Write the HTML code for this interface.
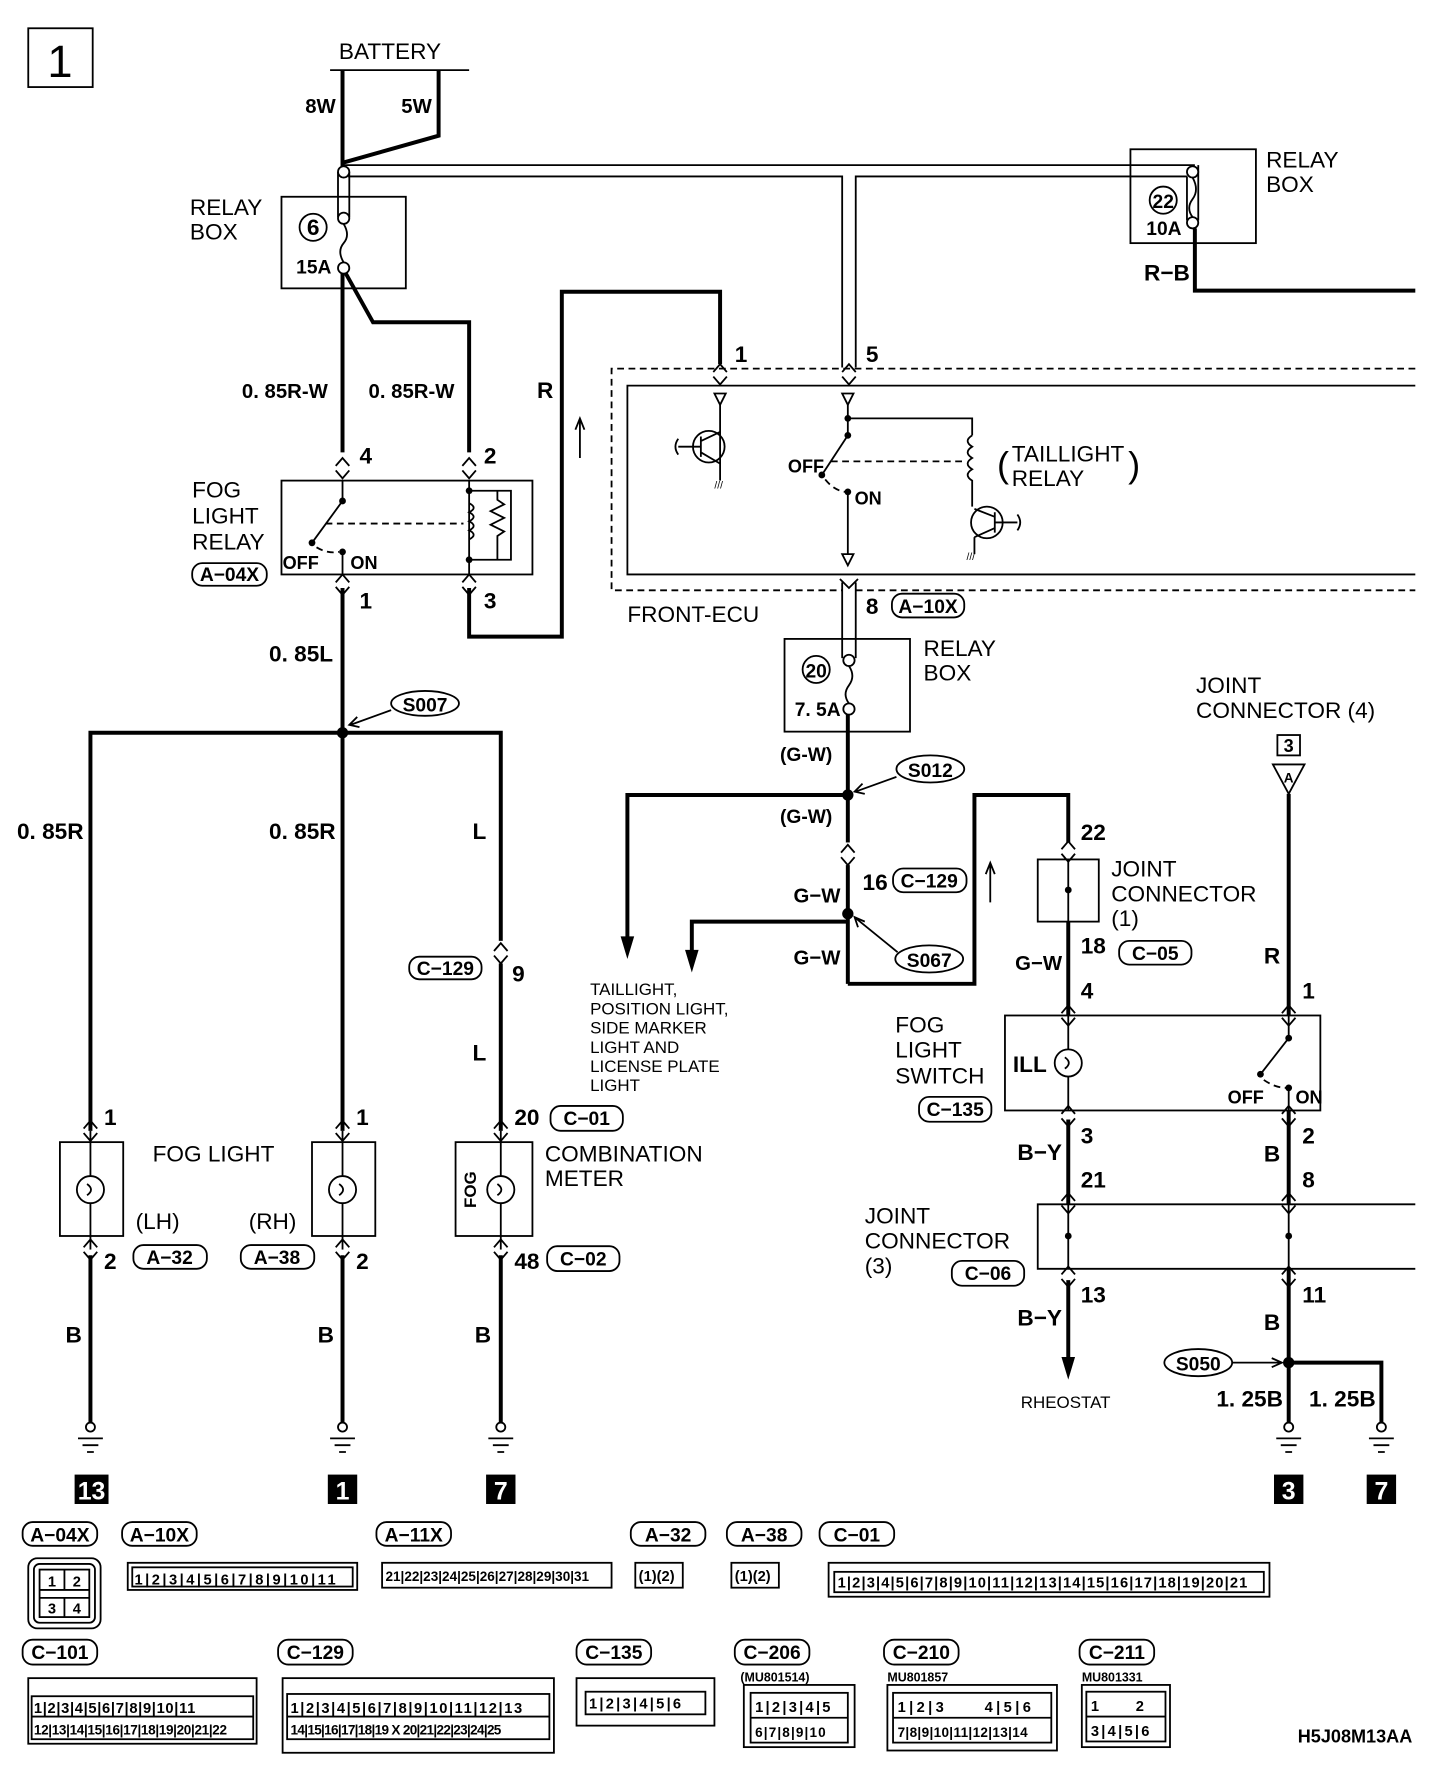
<!DOCTYPE html>
<html><head><meta charset="utf-8"><style>
html,body{margin:0;padding:0;background:#fff}
svg{display:block}
text{font-family:"Liberation Sans Narrow","Liberation Sans",sans-serif;fill:#000}
.b{font-weight:bold;font-size:20px}
.n{font-size:20px}
.s{font-size:15px}
.w{stroke:#000;stroke-width:3.5;fill:none}
.t{stroke:#000;stroke-width:1.6;fill:none}
.d{stroke:#000;stroke-width:1.6;fill:none;stroke-dasharray:6 4}
</style></head><body>
<svg width="1456" height="1772" viewBox="0 0 1288 1567" preserveAspectRatio="none" xmlns="http://www.w3.org/2000/svg">
<defs>
<g id="ch"><path d="M-6,-1 L0,-8 L6,-1 M-6,3 L0,10 L6,3" stroke="#000" stroke-width="1.6" fill="none"/></g>
<g id="gnd"><circle cx="0" cy="0" r="4" fill="#fff" stroke="#000" stroke-width="1.6"/><path d="M-11,10 H11 M-7,16 H7 M-3,22 H3" stroke="#000" stroke-width="1.6"/></g>
<g id="lamp"><circle r="12" fill="#fff" stroke="#000" stroke-width="1.6"/><path d="M-3,-5 Q4,0 -3,5" stroke="#000" stroke-width="1.6" fill="none"/></g>
</defs>
<rect x="25" y="25" width="57" height="52" class="t"/>
<text x="53" y="68" text-anchor="middle" style="font-size:40px">1</text>
<text x="345" y="52" text-anchor="middle" class="n">BATTERY</text>
<line x1="292" y1="62" x2="415" y2="62" class="t"/>
<line x1="303" y1="62" x2="303" y2="148" class="w"/>
<polyline points="388,62 388,120 303,144" class="w"/>
<text x="270" y="100" class="b" style="font-size:18px">8W</text><text x="355" y="100" class="b" style="font-size:18px">5W</text>
<line x1="303" y1="146" x2="1057" y2="146" class="t"/>
<polyline points="308,156 745,156 745,325" class="t"/>
<polyline points="1050,156 757,156 757,325" class="t"/>
<line x1="1050" y1="156" x2="1050" y2="195" class="t"/><line x1="1060" y1="146" x2="1060" y2="195" class="t"/>
<rect x="249" y="174" width="110" height="81" class="t"/>
<circle cx="277" cy="201" r="12" class="t"/><text x="277" y="208" text-anchor="middle" class="b">6</text>
<text x="262" y="242" class="b" style="font-size:17px">15A</text>
<line x1="299" y1="152" x2="299" y2="192" class="t"/><line x1="309" y1="152" x2="309" y2="192" class="t"/>
<circle cx="304" cy="152" r="5" fill="#fff" stroke="#000" stroke-width="1.6"/>
<circle cx="304" cy="193" r="5" fill="#fff" stroke="#000" stroke-width="1.6"/>
<path d="M304,198 Q310,208 304,215 Q298,222 304,232" class="t"/>
<circle cx="304" cy="237" r="5" fill="#fff" stroke="#000" stroke-width="1.6"/>
<text x="168" y="190" class="n">RELAY</text><text x="168" y="212" class="n">BOX</text>
<line x1="303" y1="242" x2="303" y2="400" class="w"/>
<polyline points="306,242 330,285 415,285 415,400" class="w"/>
<text x="214" y="352" class="b" style="font-size:18px">0. 85R-W</text><text x="326" y="352" class="b" style="font-size:18px">0. 85R-W</text>
<text x="475" y="352" class="b">R</text>
<polyline points="415,520 415,563 497,563 497,258 637,258 637,322" class="w"/>
<path d="M513,405 V372 M509,380 L513,370 L517,380" class="t"/>
<rect x="249" y="425" width="222" height="83" class="t"/>
<use href="#ch" x="303" y="413"/><use href="#ch" x="415" y="413"/>
<use href="#ch" x="303" y="516"/><use href="#ch" x="415" y="516"/>
<text x="318" y="410" class="b">4</text><text x="428" y="410" class="b">2</text>
<text x="318" y="538" class="b">1</text><text x="428" y="538" class="b">3</text>
<line x1="303" y1="425" x2="303" y2="443" class="t"/><circle cx="303" cy="443" r="3" fill="#000"/>
<line x1="303" y1="443" x2="276" y2="480" class="t"/><circle cx="276" cy="480" r="3" fill="#000"/>
<circle cx="303" cy="488" r="3" fill="#000"/><line x1="303" y1="488" x2="303" y2="508" class="t"/>
<path d="M280,484 Q290,490 300,488" class="d"/>
<line x1="288" y1="463" x2="410" y2="463" class="d"/>
<text x="250" y="503" class="b" style="font-size:16px">OFF</text><text x="310" y="503" class="b" style="font-size:16px">ON</text>
<line x1="415" y1="425" x2="415" y2="508" class="t"/>
<circle cx="415" cy="434" r="3" fill="#000"/><circle cx="415" cy="495" r="3" fill="#000"/>
<polyline points="415,434 452,434 452,495 415,495" class="t"/>
<path d="M415,445 q8,4 0,8 q8,4 0,8 q8,4 0,8 q8,4 0,8" class="t"/>
<path d="M440,434 V442 l6,4 l-12,6 l12,6 l-12,6 l12,6 l-6,4 V495" class="t"/>
<text x="170" y="440" class="n">FOG</text><text x="170" y="463" class="n">LIGHT</text><text x="170" y="486" class="n">RELAY</text>
<rect x="170" y="498" width="66" height="20" rx="9" class="t"/><text x="203" y="514" text-anchor="middle" class="b" style="font-size:17px">A−04X</text>
<line x1="303" y1="520" x2="303" y2="1000" class="w"/>
<text x="238" y="585" class="b">0. 85L</text>
<circle cx="303" cy="648" r="5" fill="#000"/>
<polyline points="80,1000 80,648 443,648 443,1000" class="w"/>
<ellipse cx="376" cy="622" rx="30" ry="11" class="t"/><text x="376" y="629" text-anchor="middle" class="b" style="font-size:17px">S007</text>
<path d="M346,628 L310,641 M316,634 L309,641 L318,643" class="t"/>
<text x="15" y="742" class="b">0. 85R</text><text x="238" y="742" class="b">0. 85R</text><text x="418" y="742" class="b">L</text>
<rect x="441" y="832" width="4" height="20" fill="#fff"/><use href="#ch" x="443" y="842"/>
<rect x="362" y="846" width="64" height="20" rx="9" class="t"/><text x="394" y="862" text-anchor="middle" class="b" style="font-size:17px">C−129</text>
<text x="453" y="868" class="b">9</text><text x="418" y="938" class="b">L</text>
<rect x="53" y="1010" width="56" height="83" class="t"/><rect x="276" y="1010" width="56" height="83" class="t"/><rect x="403" y="1010" width="68" height="83" class="t"/>
<use href="#lamp" x="80" y="1052"/><use href="#lamp" x="303" y="1052"/><use href="#lamp" x="443" y="1052"/>
<line x1="80" y1="1000" x2="80" y2="1040" class="t"/><line x1="80" y1="1064" x2="80" y2="1105" class="t"/>
<line x1="303" y1="1000" x2="303" y2="1040" class="t"/><line x1="303" y1="1064" x2="303" y2="1105" class="t"/>
<line x1="443" y1="1000" x2="443" y2="1040" class="t"/><line x1="443" y1="1064" x2="443" y2="1105" class="t"/>
<use href="#ch" x="80" y="999"/><use href="#ch" x="303" y="999"/><use href="#ch" x="443" y="999"/>
<use href="#ch" x="80" y="1104"/><use href="#ch" x="303" y="1104"/><use href="#ch" x="443" y="1104"/>
<text x="92" y="995" class="b">1</text><text x="315" y="995" class="b">1</text><text x="455" y="995" class="b">20</text>
<rect x="487" y="978" width="64" height="22" rx="9" class="t"/><text x="519" y="995" text-anchor="middle" class="b" style="font-size:17px">C−01</text>
<text x="92" y="1122" class="b">2</text><text x="315" y="1122" class="b">2</text><text x="455" y="1122" class="b">48</text>
<rect x="484" y="1102" width="64" height="22" rx="9" class="t"/><text x="516" y="1119" text-anchor="middle" class="b" style="font-size:17px">C−02</text>
<text x="135" y="1027" class="n">FOG LIGHT</text>
<text x="120" y="1087" class="n">(LH)</text><text x="220" y="1087" class="n">(RH)</text>
<rect x="118" y="1101" width="65" height="21" rx="9" class="t"/><text x="150" y="1118" text-anchor="middle" class="b" style="font-size:17px">A−32</text>
<rect x="213" y="1101" width="65" height="21" rx="9" class="t"/><text x="245" y="1118" text-anchor="middle" class="b" style="font-size:17px">A−38</text>
<text x="482" y="1027" class="n">COMBINATION</text><text x="482" y="1049" class="n">METER</text>
<text transform="translate(421,1052) rotate(-90)" text-anchor="middle" class="b" style="font-size:15px">FOG</text>
<line x1="80" y1="1110" x2="80" y2="1258" class="w"/><line x1="303" y1="1110" x2="303" y2="1258" class="w"/><line x1="443" y1="1110" x2="443" y2="1258" class="w"/>
<text x="58" y="1187" class="b">B</text><text x="281" y="1187" class="b">B</text><text x="420" y="1187" class="b">B</text>
<use href="#gnd" x="80" y="1262"/><use href="#gnd" x="303" y="1262"/><use href="#gnd" x="443" y="1262"/>
<rect x="66" y="1304" width="30" height="26" fill="#000"/><text x="81" y="1326" text-anchor="middle" class="b" style="fill:#fff;font-size:22px">13</text>
<rect x="290" y="1304" width="26" height="26" fill="#000"/><text x="303" y="1326" text-anchor="middle" class="b" style="fill:#fff;font-size:22px">1</text>
<rect x="430" y="1304" width="26" height="26" fill="#000"/><text x="443" y="1326" text-anchor="middle" class="b" style="fill:#fff;font-size:22px">7</text>
<polyline points="1252,326 541,326 541,522 745,522" class="d"/>
<line x1="757" y1="522" x2="1252" y2="522" class="d"/>
<polyline points="1252,341 555,341 555,508 1252,508" class="t"/>
<text x="650" y="320" class="b">1</text><text x="766" y="320" class="b">5</text>
<use href="#ch" x="637" y="330"/><use href="#ch" x="751" y="330"/>
<path d="M632,348 H642 L637,358 Z M745,348 H755 L750,358 Z" class="t"/>
<line x1="637" y1="358" x2="637" y2="425" class="t"/>
<circle cx="627" cy="395" r="14" class="t"/><path d="M620,386 V404 M620,395 H600 M620,390 L637,382 M620,400 L637,410" class="t"/>
<path d="M600,388 q-5,7 0,14" class="t"/>
<text x="632" y="432" style="font-size:9px">///</text>
<line x1="750" y1="358" x2="750" y2="385" class="t"/><circle cx="750" cy="370" r="3" fill="#000"/><circle cx="750" cy="385" r="3" fill="#000"/>
<polyline points="750,370 860,370 860,385" class="t"/>
<line x1="750" y1="385" x2="727" y2="420" class="t"/><circle cx="727" cy="420" r="3" fill="#000"/>
<circle cx="750" cy="435" r="3" fill="#000"/><path d="M730,424 Q738,434 748,435" class="d"/>
<line x1="750" y1="435" x2="750" y2="490" class="t"/><path d="M745,490 H755 L750,500 Z" class="t"/>
<text x="697" y="418" class="b" style="font-size:16px">OFF</text><text x="756" y="446" class="b" style="font-size:16px">ON</text>
<line x1="735" y1="408" x2="855" y2="408" class="d"/>
<path d="M860,385 q-8,5 0,10 q-8,5 0,10 q-8,5 0,10 q-8,5 0,10 V448" class="t"/>
<circle cx="873" cy="462" r="14" class="t"/><path d="M880,453 V471 M880,462 H900 M880,457 L862,450 M880,467 L862,475 M862,475 V490" class="t"/>
<path d="M900,455 q5,7 0,14" class="t"/><text x="855" y="495" style="font-size:9px">///</text>
<text x="882" y="422" style="font-size:32px">(</text>
<text x="895" y="408" class="n">TAILLIGHT</text><text x="895" y="430" class="n">RELAY</text>
<text x="998" y="422" style="font-size:32px">)</text>
<line x1="745" y1="515" x2="745" y2="582" class="t"/><line x1="757" y1="515" x2="757" y2="582" class="t"/>
<path d="M743,512 L751,520 L759,512" class="t"/>
<text x="766" y="543" class="b">8</text>
<rect x="789" y="525" width="64" height="21" rx="9" class="t"/><text x="821" y="542" text-anchor="middle" class="b" style="font-size:17px">A−10X</text>
<text x="555" y="550" class="n">FRONT-ECU</text>
<rect x="694" y="565" width="111" height="82" class="t"/>
<circle cx="722" cy="592" r="12" class="t"/><text x="722" y="599" text-anchor="middle" class="b" style="font-size:17px">20</text>
<text x="703" y="633" class="b" style="font-size:17px">7. 5A</text>
<circle cx="751" cy="584" r="5" fill="#fff" stroke="#000" stroke-width="1.6"/>
<path d="M751,589 Q757,598 751,606 Q745,614 751,622" class="t"/>
<circle cx="751" cy="627" r="5" fill="#fff" stroke="#000" stroke-width="1.6"/>
<text x="817" y="580" class="n">RELAY</text><text x="817" y="602" class="n">BOX</text>
<line x1="750" y1="632" x2="750" y2="870" class="w"/>
<text x="690" y="673" class="b" style="font-size:17px">(G-W)</text><text x="690" y="728" class="b" style="font-size:17px">(G-W)</text>
<circle cx="750" cy="703" r="5" fill="#000"/>
<ellipse cx="823" cy="680" rx="30" ry="12" class="t"/><text x="823" y="687" text-anchor="middle" class="b" style="font-size:17px">S012</text>
<path d="M793,687 L757,700 M763,693 L756,700 L765,702" class="t"/>
<polyline points="750,703 555,703 555,835" class="w"/><path d="M549,828 L555,848 L561,828 Z" fill="#000"/>
<rect x="748" y="745" width="4" height="20" fill="#fff"/><use href="#ch" x="750" y="755"/>
<text x="763" y="787" class="b">16</text>
<rect x="790" y="768" width="65" height="21" rx="9" class="t"/><text x="822" y="785" text-anchor="middle" class="b" style="font-size:17px">C−129</text>
<text x="702" y="798" class="b" style="font-size:18px">G−W</text><text x="702" y="853" class="b" style="font-size:18px">G−W</text>
<circle cx="750" cy="808" r="5" fill="#000"/>
<polyline points="750,815 612,815 612,845" class="w"/><path d="M606,840 L612,860 L618,840 Z" fill="#000"/>
<ellipse cx="822" cy="848" rx="30" ry="12" class="t"/><text x="822" y="855" text-anchor="middle" class="b" style="font-size:17px">S067</text>
<path d="M794,842 L757,812 M759,820 L756,811 L765,815" class="t"/>
<polyline points="750,870 862,870 862,703 945,703 945,745" class="w"/>
<path d="M876,798 V765 M872,773 L876,763 L880,773" class="t"/>
<text x="522" y="880" class="s">TAILLIGHT,</text><text x="522" y="897" class="s">POSITION LIGHT,</text><text x="522" y="914" class="s">SIDE MARKER</text><text x="522" y="931" class="s">LIGHT AND</text><text x="522" y="948" class="s">LICENSE PLATE</text><text x="522" y="965" class="s">LIGHT</text>
<use href="#ch" x="945" y="752"/><text x="956" y="743" class="b">22</text>
<rect x="918" y="760" width="54" height="55" class="t"/>
<line x1="945" y1="760" x2="945" y2="815" class="t"/><circle cx="945" cy="787" r="3" fill="#000"/>
<text x="983" y="775" class="n">JOINT</text><text x="983" y="797" class="n">CONNECTOR</text><text x="983" y="819" class="n">(1)</text>
<text x="956" y="843" class="b">18</text>
<rect x="990" y="832" width="64" height="21" rx="9" class="t"/><text x="1022" y="849" text-anchor="middle" class="b" style="font-size:17px">C−05</text>
<line x1="945" y1="815" x2="945" y2="898" class="w"/><text x="898" y="858" class="b" style="font-size:18px">G−W</text>
<text x="956" y="883" class="b">4</text>
<rect x="889" y="898" width="279" height="84" class="t"/>
<use href="#ch" x="945" y="897"/><use href="#ch" x="1140" y="897"/>
<line x1="945" y1="898" x2="945" y2="928" class="t"/><use href="#lamp" x="945" y="940"/><line x1="945" y1="952" x2="945" y2="982" class="t"/>
<text x="896" y="948" class="b">ILL</text>
<text x="792" y="913" class="n">FOG</text><text x="792" y="935" class="n">LIGHT</text><text x="792" y="958" class="n">SWITCH</text>
<rect x="813" y="970" width="64" height="22" rx="9" class="t"/><text x="845" y="987" text-anchor="middle" class="b" style="font-size:17px">C−135</text>
<line x1="1140" y1="898" x2="1140" y2="918" class="t"/><circle cx="1140" cy="918" r="3" fill="#000"/>
<line x1="1140" y1="918" x2="1115" y2="950" class="t"/><circle cx="1115" cy="950" r="3" fill="#000"/>
<circle cx="1140" cy="962" r="3" fill="#000"/><path d="M1118,955 Q1128,962 1138,962" class="d"/>
<line x1="1140" y1="962" x2="1140" y2="982" class="t"/>
<text x="1086" y="976" class="b" style="font-size:16px">OFF</text><text x="1146" y="976" class="b" style="font-size:16px">ON</text>
<use href="#ch" x="945" y="986"/><use href="#ch" x="1140" y="986"/>
<text x="956" y="1011" class="b">3</text><text x="1152" y="1011" class="b">2</text>
<line x1="945" y1="990" x2="945" y2="1065" class="w"/><text x="900" y="1026" class="b">B−Y</text>
<text x="956" y="1050" class="b">21</text><text x="1152" y="1050" class="b">8</text>
<polyline points="1252,1065 918,1065 918,1122 1252,1122" class="t"/>
<use href="#ch" x="945" y="1063"/><use href="#ch" x="1140" y="1063"/>
<line x1="945" y1="1065" x2="945" y2="1122" class="t"/><line x1="1140" y1="1065" x2="1140" y2="1122" class="t"/>
<circle cx="945" cy="1093" r="3" fill="#000"/><circle cx="1140" cy="1093" r="3" fill="#000"/>
<text x="765" y="1082" class="n">JOINT</text><text x="765" y="1104" class="n">CONNECTOR</text><text x="765" y="1126" class="n">(3)</text>
<rect x="842" y="1115" width="64" height="22" rx="9" class="t"/><text x="874" y="1132" text-anchor="middle" class="b" style="font-size:17px">C−06</text>
<use href="#ch" x="945" y="1128"/><use href="#ch" x="1140" y="1128"/>
<text x="956" y="1152" class="b">13</text><text x="1152" y="1152" class="b">11</text>
<line x1="945" y1="1132" x2="945" y2="1205" class="w"/><path d="M939,1200 L945,1220 L951,1200 Z" fill="#000"/>
<text x="900" y="1172" class="b">B−Y</text>
<text x="903" y="1245" class="s">RHEOSTAT</text>
<text x="1058" y="613" class="n">JOINT</text><text x="1058" y="635" class="n">CONNECTOR (4)</text>
<rect x="1130" y="650" width="20" height="18" class="t"/><text x="1140" y="665" text-anchor="middle" class="b" style="font-size:16px">3</text>
<path d="M1126,676 H1154 L1140,702 Z" class="t"/><text x="1140" y="692" text-anchor="middle" class="b" style="font-size:12px">A</text>
<line x1="1140" y1="702" x2="1140" y2="898" class="w"/>
<line x1="1140" y1="982" x2="1140" y2="1065" class="w"/>
<line x1="1140" y1="1122" x2="1140" y2="1258" class="w"/>
<text x="1118" y="852" class="b">R</text><text x="1152" y="883" class="b">1</text>
<text x="1118" y="1027" class="b">B</text><text x="1118" y="1176" class="b">B</text>
<circle cx="1140" cy="1205" r="5" fill="#000"/>
<polyline points="1140,1205 1222,1205 1222,1258" class="w"/>
<ellipse cx="1060" cy="1205" rx="30" ry="12" class="t"/><text x="1060" y="1212" text-anchor="middle" class="b" style="font-size:17px">S050</text>
<path d="M1090,1205 H1132 M1125,1201 L1134,1205 L1125,1209" class="t"/>
<text x="1076" y="1244" class="b">1. 25B</text><text x="1158" y="1244" class="b">1. 25B</text>
<use href="#gnd" x="1140" y="1262"/><use href="#gnd" x="1222" y="1262"/>
<rect x="1127" y="1304" width="26" height="26" fill="#000"/><text x="1140" y="1326" text-anchor="middle" class="b" style="fill:#fff;font-size:22px">3</text>
<rect x="1209" y="1304" width="26" height="26" fill="#000"/><text x="1222" y="1326" text-anchor="middle" class="b" style="fill:#fff;font-size:22px">7</text>
<rect x="1000" y="132" width="111" height="83" class="t"/>
<circle cx="1029" cy="177" r="12" class="t"/><text x="1029" y="184" text-anchor="middle" class="b" style="font-size:17px">22</text>
<text x="1014" y="208" class="b" style="font-size:17px">10A</text>
<circle cx="1055" cy="152" r="5" fill="#fff" stroke="#000" stroke-width="1.6"/>
<path d="M1055,157 Q1061,168 1055,176 Q1049,184 1055,192" class="t"/>
<circle cx="1055" cy="197" r="5" fill="#fff" stroke="#000" stroke-width="1.6"/>
<text x="1120" y="148" class="n">RELAY</text><text x="1120" y="170" class="n">BOX</text>
<polyline points="1057,202 1057,257 1252,257" class="w"/>
<text x="1012" y="248" class="b">R−B</text>
<rect x="20" y="1346" width="66" height="21" rx="9" class="t"/><text x="53" y="1363" text-anchor="middle" class="b" style="font-size:17px">A−04X</text>
<rect x="108" y="1346" width="66" height="21" rx="9" class="t"/><text x="141" y="1363" text-anchor="middle" class="b" style="font-size:17px">A−10X</text>
<rect x="333" y="1346" width="66" height="21" rx="9" class="t"/><text x="366" y="1363" text-anchor="middle" class="b" style="font-size:17px">A−11X</text>
<rect x="558" y="1346" width="66" height="21" rx="9" class="t"/><text x="591" y="1363" text-anchor="middle" class="b" style="font-size:17px">A−32</text>
<rect x="643" y="1346" width="66" height="21" rx="9" class="t"/><text x="676" y="1363" text-anchor="middle" class="b" style="font-size:17px">A−38</text>
<rect x="725" y="1346" width="66" height="21" rx="9" class="t"/><text x="758" y="1363" text-anchor="middle" class="b" style="font-size:17px">C−01</text>
<rect x="25" y="1378" width="64" height="62" rx="8" class="t"/><rect x="30" y="1383" width="54" height="52" rx="5" class="t"/>
<rect x="35" y="1388" width="44" height="42" class="t"/><line x1="35" y1="1406" x2="79" y2="1406" class="t"/><line x1="35" y1="1413" x2="79" y2="1413" class="t"/><line x1="57" y1="1388" x2="57" y2="1406" class="t"/><line x1="57" y1="1413" x2="57" y2="1430" class="t"/>
<text x="46" y="1403" text-anchor="middle" class="b" style="font-size:13px">1</text><text x="68" y="1403" text-anchor="middle" class="b" style="font-size:13px">2</text><text x="46" y="1427" text-anchor="middle" class="b" style="font-size:13px">3</text><text x="68" y="1427" text-anchor="middle" class="b" style="font-size:13px">4</text>
<rect x="113" y="1382" width="203" height="24" class="t"/><rect x="117" y="1386" width="195" height="17" class="t"/>
<text x="119" y="1401" class="b" style="font-size:13px;letter-spacing:2.2px">1|2|3|4|5|6|7|8|9|10|11</text>
<rect x="338" y="1382" width="203" height="22" class="t"/>
<text x="341" y="1398" class="b" style="font-size:12px;letter-spacing:0px">21|22|23|24|25|26|27|28|29|30|31</text>
<rect x="562" y="1382" width="42" height="22" class="t"/><text x="565" y="1398" class="b" style="font-size:13px">(1)(2)</text>
<rect x="647" y="1382" width="42" height="22" class="t"/><text x="650" y="1398" class="b" style="font-size:13px">(1)(2)</text>
<rect x="733" y="1382" width="390" height="30" class="t"/><rect x="738" y="1390" width="380" height="18" class="t"/>
<text x="741" y="1404" class="b" style="font-size:13px;letter-spacing:1px">1|2|3|4|5|6|7|8|9|10|11|12|13|14|15|16|17|18|19|20|21</text>
<rect x="20" y="1450" width="66" height="22" rx="9" class="t"/><text x="53" y="1467" text-anchor="middle" class="b" style="font-size:17px">C−101</text>
<rect x="246" y="1450" width="66" height="22" rx="9" class="t"/><text x="279" y="1467" text-anchor="middle" class="b" style="font-size:17px">C−129</text>
<rect x="510" y="1450" width="66" height="22" rx="9" class="t"/><text x="543" y="1467" text-anchor="middle" class="b" style="font-size:17px">C−135</text>
<rect x="650" y="1450" width="66" height="22" rx="9" class="t"/><text x="683" y="1467" text-anchor="middle" class="b" style="font-size:17px">C−206</text>
<rect x="782" y="1450" width="66" height="22" rx="9" class="t"/><text x="815" y="1467" text-anchor="middle" class="b" style="font-size:17px">C−210</text>
<rect x="955" y="1450" width="66" height="22" rx="9" class="t"/><text x="988" y="1467" text-anchor="middle" class="b" style="font-size:17px">C−211</text>
<text x="655" y="1487" class="b" style="font-size:11px">(MU801514)</text>
<text x="785" y="1487" class="b" style="font-size:11px">MU801857</text>
<text x="957" y="1487" class="b" style="font-size:11px">MU801331</text>
<rect x="25" y="1484" width="202" height="58" class="t"/><line x1="28" y1="1518" x2="224" y2="1518" class="t"/><rect x="28" y="1500" width="196" height="38" class="t"/>
<text x="30" y="1515" class="b" style="font-size:13px;letter-spacing:0.6px">1|2|3|4|5|6|7|8|9|10|11</text>
<text x="30" y="1534" class="b" style="font-size:12px;letter-spacing:-0.3px">12|13|14|15|16|17|18|19|20|21|22</text>
<rect x="250" y="1484" width="240" height="66" class="t"/><rect x="254" y="1498" width="232" height="40" class="t"/><line x1="254" y1="1518" x2="486" y2="1518" class="t"/>
<text x="257" y="1515" class="b" style="font-size:13px;letter-spacing:1.4px">1|2|3|4|5|6|7|8|9|10|11|12|13</text>
<text x="257" y="1534" class="b" style="font-size:12px;letter-spacing:-0.6px">14|15|16|17|18|19 X 20|21|22|23|24|25</text>
<rect x="510" y="1484" width="122" height="42" class="t"/><rect x="518" y="1496" width="106" height="20" class="t"/>
<text x="521" y="1511" class="b" style="font-size:13px;letter-spacing:2px">1|2|3|4|5|6</text>
<rect x="658" y="1490" width="98" height="55" class="t"/><rect x="664" y="1497" width="86" height="44" class="t"/><line x1="664" y1="1519" x2="750" y2="1519" class="t"/>
<text x="668" y="1514" class="b" style="font-size:13px;letter-spacing:2px">1|2|3|4|5</text>
<text x="668" y="1536" class="b" style="font-size:12px;letter-spacing:1px">6|7|8|9|10</text>
<rect x="785" y="1490" width="150" height="58" class="t"/><rect x="790" y="1497" width="140" height="44" class="t"/><line x1="790" y1="1519" x2="930" y2="1519" class="t"/>
<text x="794" y="1514" class="b" style="font-size:13px;letter-spacing:3px">1|2|3 &#160;&#160;&#160; 4|5|6</text>
<text x="794" y="1536" class="b" style="font-size:12px;letter-spacing:0.3px">7|8|9|10|11|12|13|14</text>
<rect x="957" y="1490" width="78" height="55" class="t"/><rect x="961" y="1496" width="70" height="44" class="t"/><line x1="961" y1="1518" x2="1031" y2="1518" class="t"/>
<text x="965" y="1513" class="b" style="font-size:13px">1 &#160;&#160;&#160;&#160;&#160;&#160;&#160; 2</text>
<text x="965" y="1535" class="b" style="font-size:13px;letter-spacing:2px">3|4|5|6</text>
<text x="1148" y="1541" class="b" style="font-size:16px">H5J08M13AA</text>
</svg>
</body></html>
